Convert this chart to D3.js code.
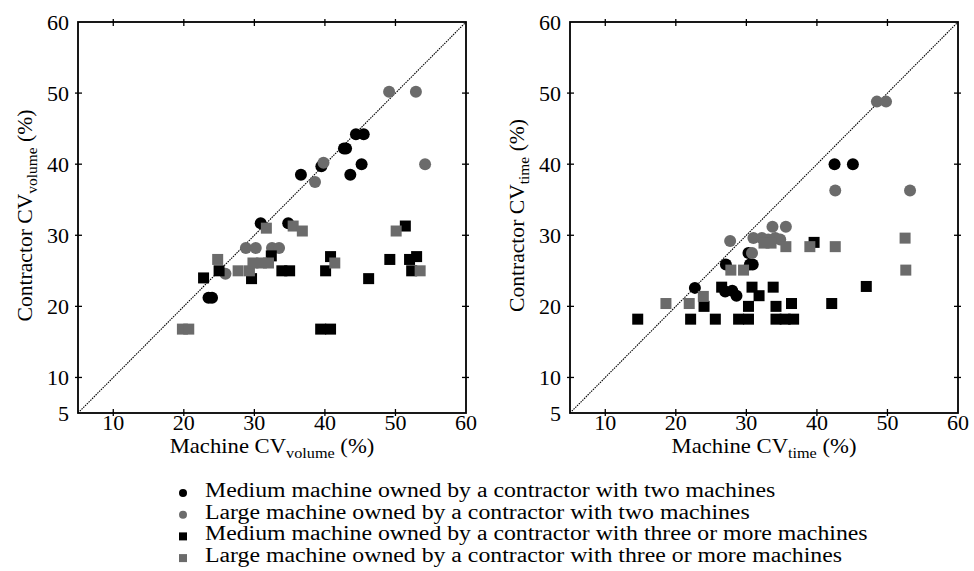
<!DOCTYPE html>
<html>
<head>
<meta charset="utf-8">
<script src="https://cdn.jsdelivr.net/npm/d3@7"></script>
<style>
  body { margin: 0; background: #fff; }
  svg text { font-family: "Liberation Serif", "DejaVu Serif", serif; fill: #000; }
</style>
</head>
<body>
<svg width="974" height="571"></svg>
<script>
// tick values shared by both panels
var xTicks = [10, 20, 30, 40, 50, 60];
var yTicks = [5, 10, 20, 30, 40, 50, 60];

// CV volume panel: [machine, contractor]
var volMedTwo = [[23.5,21.2],[24.0,21.2],[30.9,31.7],[34.8,31.7],[36.6,38.5],[39.5,39.7],[42.7,42.2],[43.0,42.2],[44.4,44.2],[45.5,44.2],[43.6,38.5],[45.2,40.0]];
var volLargeTwo = [[25.9,24.6],[28.8,28.2],[30.2,28.2],[32.5,28.2],[33.5,28.2],[38.6,37.5],[39.8,40.2],[49.1,50.2],[52.9,50.2],[54.2,40.0]];
var volMedThree = [[22.8,24.0],[25.0,25.0],[29.6,23.9],[32.4,27.1],[33.9,25.0],[35.0,25.0],[40.1,25.0],[40.8,27.0],[39.4,16.8],[40.8,16.8],[46.2,23.9],[49.2,26.6],[51.4,31.3],[52.0,26.6],[52.3,25.0],[53.0,27.0]];
var volLargeThree = [[19.8,16.8],[20.7,16.8],[24.8,26.6],[27.7,25.0],[29.3,25.0],[29.8,26.1],[31.0,26.1],[32.0,26.1],[31.7,31.0],[35.5,31.3],[36.8,30.6],[41.4,26.1],[50.1,30.6],[53.5,25.0]];

// CV time panel: [machine, contractor]
var timeMedTwo = [[22.7,22.6],[27.0,22.1],[28.0,22.2],[28.6,21.5],[27.1,25.9],[30.3,27.5],[30.5,25.9],[30.9,25.9],[42.5,40.0],[45.1,40.0]];
var timeLargeTwo = [[27.7,29.2],[30.8,27.5],[31.0,29.6],[32.2,29.6],[33.1,29.4],[34.1,29.6],[34.8,29.4],[33.7,31.2],[35.6,31.2],[42.6,36.3],[48.5,48.8],[49.8,48.8],[53.2,36.3]];
var timeMedThree = [[14.6,18.2],[22.1,18.2],[25.6,18.2],[28.9,18.2],[30.3,18.2],[34.2,18.2],[35.5,18.2],[36.7,18.2],[24.0,20.0],[30.3,20.0],[34.2,20.0],[36.4,20.4],[42.1,20.4],[26.5,22.7],[30.8,22.7],[33.8,22.7],[31.8,21.5],[47.0,22.8],[39.6,29.0]];
var timeLargeThree = [[18.6,20.4],[21.9,20.4],[23.9,21.4],[27.8,25.1],[29.6,25.1],[32.5,28.9],[33.5,28.9],[35.6,28.4],[39.0,28.4],[42.6,28.4],[52.5,29.6],[52.6,25.1]];

var legendLabels = [
    'Medium machine owned by a contractor with two machines',
    'Large machine owned by a contractor with two machines',
    'Medium machine owned by a contractor with three or more machines',
    'Large machine owned by a contractor with three or more machines'
];

var black = '#000';
var gray = '#6b6b6b';

var svg = d3.select('svg');

var plotTop = 22, plotBottom = 413;

function drawPanel(left, right, sub, groups) {
    var x = d3.scaleLinear().domain([5, 60]).range([left, right]);
    var y = d3.scaleLinear().domain([5, 60]).range([plotBottom, plotTop]);

    var g = svg.append('g');

    // frame
    g.append('rect')
        .attr('x', left).attr('y', plotTop)
        .attr('width', right - left).attr('height', plotBottom - plotTop)
        .attr('fill', 'none').attr('stroke', '#000').attr('stroke-width', 1.8);

    // tick marks crossing the frame on all four sides
    var inner = [10, 20, 30, 40, 50];
    inner.forEach(function(v) {
        g.append('line').attr('x1', x(v)).attr('x2', x(v)).attr('y1', plotBottom - 4).attr('y2', plotBottom + 3).attr('stroke', '#000').attr('stroke-width', 1.3);
        g.append('line').attr('x1', x(v)).attr('x2', x(v)).attr('y1', plotTop - 3).attr('y2', plotTop + 4).attr('stroke', '#000').attr('stroke-width', 1.3);
        g.append('line').attr('x1', left - 3).attr('x2', left + 4).attr('y1', y(v)).attr('y2', y(v)).attr('stroke', '#000').attr('stroke-width', 1.3);
        g.append('line').attr('x1', right - 4).attr('x2', right + 3).attr('y1', y(v)).attr('y2', y(v)).attr('stroke', '#000').attr('stroke-width', 1.3);
    });

    // tick labels
    g.selectAll('.xl').data(xTicks).enter().append('text')
        .attr('x', function(d) { return x(d); })
        .attr('y', plotBottom + 17)
        .attr('text-anchor', 'middle')
        .style('font-size', '22px')
        .text(function(d) { return d; });
    g.selectAll('.yl').data(yTicks).enter().append('text')
        .attr('x', left - 9)
        .attr('y', function(d) { return y(d); })
        .attr('dy', '0.35em')
        .attr('text-anchor', 'end')
        .style('font-size', '22px')
        .text(function(d) { return d; });

    // 1:1 line
    g.append('line')
        .attr('x1', x(5)).attr('y1', y(5)).attr('x2', x(60)).attr('y2', y(60))
        .attr('stroke', '#000').attr('stroke-width', 1.1)
        .attr('stroke-dasharray', '1.5,1');

    // points
    var r = 6, s = 11;
    g.selectAll('.c1').data(groups[0]).enter().append('circle')
        .attr('cx', function(d) { return x(d[0]); }).attr('cy', function(d) { return y(d[1]); })
        .attr('r', r).attr('fill', black);
    g.selectAll('.c2').data(groups[1]).enter().append('circle')
        .attr('cx', function(d) { return x(d[0]); }).attr('cy', function(d) { return y(d[1]); })
        .attr('r', r).attr('fill', gray);
    g.selectAll('.s1').data(groups[2]).enter().append('rect')
        .attr('x', function(d) { return x(d[0]) - s / 2; }).attr('y', function(d) { return y(d[1]) - s / 2; })
        .attr('width', s).attr('height', s).attr('fill', black);
    g.selectAll('.s2').data(groups[3]).enter().append('rect')
        .attr('x', function(d) { return x(d[0]) - s / 2; }).attr('y', function(d) { return y(d[1]) - s / 2; })
        .attr('width', s).attr('height', s).attr('fill', gray);

    // axis titles (slightly widened, like the original typesetting)
    var cx = (left + right) / 2;
    var xt = g.append('text')
        .attr('transform', 'translate(' + cx + ',453) scale(1.08,1)')
        .attr('text-anchor', 'middle')
        .style('font-size', '21px');
    xt.append('tspan').text('Machine CV');
    xt.append('tspan').attr('dy', 5).style('font-size', '15px').text(sub);
    xt.append('tspan').attr('dy', -5).text(' (%)');

    var yt = g.append('text')
        .attr('transform', 'translate(' + (left - 46) + ',' + ((plotTop + plotBottom) / 2 - 2) + ') rotate(-90) scale(1.03,1)')
        .attr('text-anchor', 'middle')
        .style('font-size', '21px');
    yt.append('tspan').text('Contractor CV');
    yt.append('tspan').attr('dy', 5).style('font-size', '15px').text(sub);
    yt.append('tspan').attr('dy', -5).text(' (%)');
}

drawPanel(78, 466, 'volume', [volMedTwo, volLargeTwo, volMedThree, volLargeThree]);
drawPanel(570, 958, 'time', [timeMedTwo, timeLargeTwo, timeMedThree, timeLargeThree]);

// legend
var legend = svg.append('g');
var shapes = ['circle', 'circle', 'square', 'square'];
var fills = [black, gray, black, gray];
legendLabels.forEach(function(label, i) {
    var yy = 491 + i * 21.7;
    if (shapes[i] === 'circle') {
        legend.append('circle').attr('cx', 183).attr('cy', yy + 2).attr('r', 4).attr('fill', fills[i]);
    } else {
        legend.append('rect').attr('x', 179).attr('y', yy - 2).attr('width', 8).attr('height', 8).attr('fill', fills[i]);
    }
    legend.append('text')
        .attr('transform', 'translate(205,' + (yy + 6) + ') scale(1.16,1)')
        .style('font-size', '20.5px')
        .text(label);
});
</script>
</body>
</html>
